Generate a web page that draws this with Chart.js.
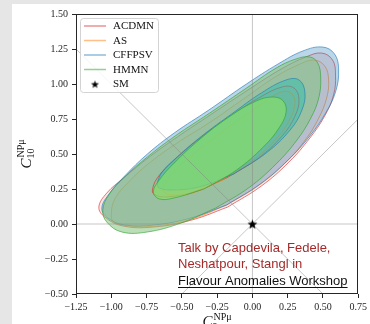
<!DOCTYPE html>
<html><head><meta charset="utf-8">
<script src="https://cdn.jsdelivr.net/npm/chart.js@4/dist/chart.umd.min.js"></script>
<style>
html,body{margin:0;padding:0;background:#fff;}
#wrap{position:relative;width:370px;height:324px;overflow:hidden;background:#fff;}
#gl{position:absolute;left:0;top:0;width:12px;height:324px;background:#e6e6e6;}
#gt{position:absolute;left:0;top:0;width:370px;height:4px;background:#e6e6e6;}
canvas{position:absolute;left:0;top:0;}
</style></head><body>
<div id="wrap"><div id="gl"></div><div id="gt"></div><canvas id="c" width="370" height="324"></canvas></div>
<script>
// ---------- data ----------
const contourNames = ['ACDMN', 'AS', 'CFFPSV', 'HMMN'];
const acdmnOuter = [[-1.088,0.121],[-1.032,0.221],[-0.912,0.329],[-0.730,0.479],[-0.533,0.621],[-0.288,0.786],[-0.021,0.964],[0.204,1.107],[0.379,1.193],[0.491,1.221],[0.568,1.171],[0.589,1.064],[0.575,0.921],[0.512,0.771],[0.407,0.614],[0.260,0.443],[0.063,0.271],[-0.175,0.121],[-0.428,0.029],[-0.695,-0.021],[-0.919,-0.014],[-1.046,0.050]];
const asOuter = [[-1.000,0.064],[-0.975,0.179],[-0.877,0.300],[-0.730,0.436],[-0.533,0.579],[-0.309,0.721],[-0.063,0.893],[0.161,1.050],[0.323,1.136],[0.435,1.171],[0.512,1.129],[0.540,1.029],[0.526,0.900],[0.470,0.757],[0.379,0.607],[0.239,0.443],[0.049,0.279],[-0.182,0.136],[-0.428,0.036],[-0.681,-0.014],[-0.877,-0.014],[-0.982,0.014]];
const cffpsvOuter = [[-1.067,0.114],[-1.011,0.221],[-0.905,0.343],[-0.744,0.500],[-0.554,0.650],[-0.309,0.814],[-0.042,1.000],[0.182,1.143],[0.358,1.236],[0.498,1.264],[0.582,1.214],[0.611,1.100],[0.589,0.943],[0.519,0.793],[0.407,0.629],[0.253,0.457],[0.056,0.286],[-0.182,0.136],[-0.435,0.043],[-0.695,-0.007],[-0.905,-0.007],[-1.025,0.043]];
const hmmnOuter = [[-1.060,0.100],[-1.018,0.207],[-0.912,0.329],[-0.744,0.479],[-0.547,0.629],[-0.302,0.793],[-0.042,0.971],[0.168,1.114],[0.309,1.179],[0.407,1.193],[0.463,1.150],[0.484,1.043],[0.470,0.900],[0.414,0.757],[0.316,0.600],[0.168,0.429],[-0.028,0.257],[-0.260,0.114],[-0.505,0.007],[-0.744,-0.057],[-0.926,-0.057],[-1.032,0.014]];
const acdmnInner = [[-0.709,0.236],[-0.674,0.329],[-0.561,0.450],[-0.379,0.607],[-0.154,0.771],[0.056,0.907],[0.211,0.979],[0.295,0.971],[0.330,0.893],[0.302,0.771],[0.211,0.629],[0.042,0.471],[-0.182,0.329],[-0.414,0.229],[-0.604,0.193],[-0.688,0.207]];
const asInner = [[-0.632,0.257],[-0.589,0.336],[-0.484,0.443],[-0.309,0.586],[-0.098,0.743],[0.084,0.871],[0.204,0.943],[0.274,0.936],[0.302,0.864],[0.267,0.750],[0.175,0.614],[0.007,0.457],[-0.211,0.314],[-0.428,0.221],[-0.575,0.207],[-0.625,0.229]];
const cffpsvInner = [[-0.674,0.286],[-0.639,0.371],[-0.533,0.479],[-0.358,0.629],[-0.147,0.786],[0.063,0.936],[0.239,1.029],[0.330,1.029],[0.372,0.943],[0.351,0.814],[0.267,0.671],[0.098,0.507],[-0.133,0.357],[-0.379,0.264],[-0.575,0.243],[-0.660,0.257]];
const hmmnInner = [[-0.702,0.229],[-0.660,0.314],[-0.554,0.436],[-0.379,0.600],[-0.168,0.764],[0.028,0.879],[0.147,0.907],[0.218,0.879],[0.239,0.800],[0.189,0.686],[0.077,0.550],[-0.112,0.386],[-0.344,0.250],[-0.554,0.186],[-0.660,0.179]];
const smPoint = [[0, 0]];
const refLineDown = [[-1.25,1.25],[0.5,-0.5]];
const refLineUp = [[-0.5,-0.5],[0.75,0.75]];
const refLineH = [[-1.25,0],[0.75,0]];
const refLineV = [[0,-0.5],[0,1.5]];
const xTicks = [-1.25,-1.0,-0.75,-0.5,-0.25,0,0.25,0.5,0.75];
const yTicks = [-0.5,-0.25,0,0.25,0.5,0.75,1.0,1.25,1.5];
const legendLabels = ['ACDMN','AS','CFFPSV','HMMN','SM'];
const noteLines = ['Talk by Capdevila, Fedele,', 'Neshatpour, Stangl in', 'Flavour Anomalies Workshop'];

// ---------- styles ----------
const SERIF = '"Liberation Serif","Times New Roman",serif';
const lineRGB = {ACDMN:'214,39,40', AS:'255,127,14', CFFPSV:'31,119,180', HMMN:'44,160,44'};
const outerFill = {ACDMN:'rgba(214,39,40,0.12)', AS:'rgba(255,127,14,0.05)', CFFPSV:'rgba(31,119,180,0.30)', HMMN:'rgba(130,195,125,0.55)'};
const innerFill = {ACDMN:'rgba(214,39,40,0.05)', AS:'rgba(255,127,14,0.05)', CFFPSV:'rgba(46,190,175,0.50)', HMMN:'rgba(134,222,105,0.70)'};
const outerData = {ACDMN:acdmnOuter, AS:asOuter, CFFPSV:cffpsvOuter, HMMN:hmmnOuter};
const innerData = {ACDMN:acdmnInner, AS:asInner, CFFPSV:cffpsvInner, HMMN:hmmnInner};

// closed loop, started mid-way along the lower edge so the spline join is smooth
function loopPts(arr){
  const k = Math.floor(arr.length * 0.8);
  const ordered = arr.slice(k).concat(arr.slice(0, k));
  const p = ordered.map(([x,y]) => ({x, y}));
  p.push({x: ordered[0][0], y: ordered[0][1]});
  return p;
}
function linePts(arr){ return arr.map(([x,y]) => ({x, y})); }
function starCanvas(R){
  const s = Math.ceil(R*2 + 2);
  const c = document.createElement('canvas'); c.width = s; c.height = s;
  const g = c.getContext('2d'); g.fillStyle = '#000'; g.beginPath();
  for (let i = 0; i < 10; i++){
    const r = (i % 2) ? R*0.42 : R;
    const a = -Math.PI/2 + i*Math.PI/5;
    const px = s/2 + r*Math.cos(a), py = s/2 + 0.6 + r*Math.sin(a);
    if (i) g.lineTo(px, py); else g.moveTo(px, py);
  }
  g.closePath(); g.fill();
  return c;
}
const bigStar = starCanvas(5.2);
const smallStar = starCanvas(4.2);

const datasets = [];
function contourDs(name, arr, fillColor){
  return {label: name, data: loopPts(arr), borderColor: 'rgba(' + lineRGB[name] + ',0.6)',
    backgroundColor: fillColor, borderWidth: 1, pointRadius: 0, fill: 'shape', tension: 0.4};
}
contourNames.forEach(n => datasets.push(contourDs(n, outerData[n], outerFill[n])));
contourNames.forEach(n => datasets.push(contourDs(n, innerData[n], innerFill[n])));
[refLineH, refLineV, refLineDown, refLineUp].forEach(l => datasets.push({
  data: linePts(l), borderColor: 'rgba(128,128,128,0.45)', borderWidth: 1, pointRadius: 0, fill: false, tension: 0
}));
datasets.push({label:'SM', data: linePts(smPoint), showLine: false, pointStyle: bigStar, pointRadius: 5, pointHoverRadius: 5});
datasets.forEach((d, i) => { d.order = datasets.length - i; });

const fmt = v => (v < 0 ? '\u2212' : '') + Math.abs(v).toFixed(2);

const deco = {
  id: 'deco',
  afterDraw(chart){
    const ctx = chart.ctx, a = chart.chartArea;
    ctx.save();
    // frame
    ctx.strokeStyle = '#262626'; ctx.lineWidth = 1;
    ctx.strokeRect(Math.round(a.left)+0.5, Math.round(a.top)+0.5, Math.round(a.right-a.left)-1, Math.round(a.bottom-a.top)-1);
    // legend
    const lx = 80.5, ly = 18.5, lw = 78, lh = 74, r = 3;
    ctx.beginPath();
    ctx.moveTo(lx+r, ly); ctx.lineTo(lx+lw-r, ly); ctx.arcTo(lx+lw, ly, lx+lw, ly+r, r);
    ctx.lineTo(lx+lw, ly+lh-r); ctx.arcTo(lx+lw, ly+lh, lx+lw-r, ly+lh, r);
    ctx.lineTo(lx+r, ly+lh); ctx.arcTo(lx, ly+lh, lx, ly+lh-r, r);
    ctx.lineTo(lx, ly+r); ctx.arcTo(lx, ly, lx+r, ly, r); ctx.closePath();
    ctx.fillStyle = 'rgba(255,255,255,0.85)'; ctx.fill();
    ctx.strokeStyle = '#d3d3d3'; ctx.lineWidth = 1; ctx.stroke();
    const ys = [26, 40.5, 55, 69.5, 84];
    ctx.font = '11px ' + SERIF; ctx.textBaseline = 'middle'; ctx.textAlign = 'left';
    legendLabels.forEach((lab, i) => {
      if (i < 4){
        ctx.strokeStyle = 'rgba(' + lineRGB[lab] + ',0.5)'; ctx.lineWidth = 1.5;
        ctx.beginPath(); ctx.moveTo(84, ys[i]); ctx.lineTo(106, ys[i]); ctx.stroke();
      } else {
        ctx.drawImage(smallStar, 95 - smallStar.width/2, ys[i] - smallStar.height/2);
      }
      ctx.fillStyle = '#111'; ctx.fillText(lab, 113, ys[i] + 0.5);
    });
    // annotation
    ctx.textBaseline = 'alphabetic';
    ctx.font = '13px "Liberation Sans",Arial,sans-serif';
    ctx.fillStyle = '#a52a2a';
    ctx.fillText(noteLines[0], 178, 252);
    ctx.fillText(noteLines[1], 178, 268);
    ctx.fillStyle = '#111';
    ctx.fillText(noteLines[2], 178, 284.5);
    const w = ctx.measureText(noteLines[2]).width;
    ctx.fillRect(178, 287, w, 1);
    // y title
    ctx.fillStyle = '#111';
    ctx.save(); ctx.translate(31, 154); ctx.rotate(-Math.PI/2);
    ctx.font = 'italic 15px ' + SERIF; const wc = ctx.measureText('C').width;
    ctx.font = '10px ' + SERIF; const ws = ctx.measureText('NP\u03bc').width;
    const x0 = -(wc + ws + 1)/2;
    ctx.font = 'italic 15px ' + SERIF; ctx.fillText('C', x0, 0);
    ctx.font = '10px ' + SERIF; ctx.fillText('NP\u03bc', x0 + wc + 1, -7); ctx.fillText('10', x0 + wc, 3);
    ctx.restore();
    // x title
    ctx.font = 'italic 15px ' + SERIF; const wc2 = ctx.measureText('C').width;
    ctx.font = '10px ' + SERIF; const ws2 = ctx.measureText('NP\u03bc').width;
    const cx = (a.left + a.right)/2 - (wc2 + ws2 + 1)/2;
    ctx.font = 'italic 15px ' + SERIF; ctx.fillText('C', cx, 325.5);
    ctx.font = '10px ' + SERIF; ctx.fillText('NP\u03bc', cx + wc2 + 1, 319.5); ctx.fillText('9', cx + wc2, 330);
    ctx.restore();
  }
};

new Chart(document.getElementById('c'), {
  type: 'line',
  data: {datasets},
  options: {
    responsive: false, animation: false, devicePixelRatio: 1,
    layout: {padding: {left: 0, top: 14, right: 9, bottom: 0}},
    plugins: {legend: {display: false}, tooltip: {enabled: false}},
    scales: {
      x: {
        type: 'linear', min: -1.25, max: 0.75,
        afterBuildTicks: s => { s.ticks = xTicks.map(v => ({value: v})); },
        afterFit: s => { s.height = 30; },
        ticks: {callback: v => fmt(v), font: {family: SERIF, size: 10}, color: '#262626', padding: 3, maxRotation: 0, autoSkip: false},
        grid: {drawOnChartArea: false, drawTicks: true, tickLength: 4, color: '#262626'},
        border: {display: false}
      },
      y: {
        type: 'linear', min: -0.5, max: 1.5,
        afterBuildTicks: s => { s.ticks = yTicks.map(v => ({value: v})); },
        afterFit: s => { s.width = 76; },
        ticks: {callback: v => fmt(v), font: {family: SERIF, size: 10}, color: '#262626', padding: 4, autoSkip: false},
        grid: {drawOnChartArea: false, drawTicks: true, tickLength: 4, color: '#262626'},
        border: {display: false}
      }
    }
  },
  plugins: [deco]
});
</script>
</body></html>
